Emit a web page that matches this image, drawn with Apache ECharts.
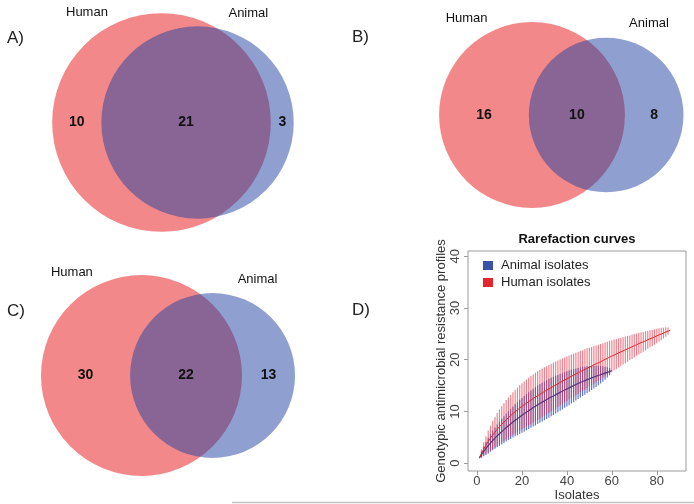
<!DOCTYPE html>
<html><head><meta charset="utf-8">
<script src="https://cdn.jsdelivr.net/npm/echarts@6/dist/echarts.min.js"></script>
<style>html,body{margin:0;padding:0;background:#fff}#c{width:694px;height:504px}</style>
</head><body><div id="c"></div>
<script>
// ---------- data ----------
const setNames = ['Human', 'Animal'];
const vennLetters = ['A)', 'B)', 'C)'];
const humanOnly = [10, 16, 30];
const sharedCounts = [21, 10, 22];
const animalOnly = [3, 8, 13];

const rareLetter = 'D)';
const rareTitle = 'Rarefaction curves';
const rareSeriesNames = ['Animal isolates', 'Human isolates'];
const xTitle = 'Isolates';
const yTitle = 'Genotypic antimicrobial resistance profiles';
const xTicks = [0, 20, 40, 60, 80];
const yTicks = [0, 10, 20, 30, 40];

const humanMean = [1.0,1.9,2.75,3.5,4.2,4.85,5.45,6.0,6.55,7.05,
7.5,7.95,8.4,8.8,9.2,9.6,9.95,10.3,10.65,11.0,
11.3,11.6,11.9,12.2,12.5,12.8,13.05,13.3,13.6,13.85,
14.1,14.35,14.6,14.85,15.1,15.35,15.6,15.85,16.1,16.3,
16.55,16.8,17.0,17.25,17.45,17.7,17.9,18.1,18.35,18.55,
18.75,19.0,19.2,19.4,19.6,19.85,20.05,20.25,20.5,20.7,
20.9,21.1,21.3,21.5,21.7,21.9,22.1,22.3,22.5,22.7,
22.9,23.1,23.3,23.45,23.65,23.85,24.05,24.2,24.4,24.6,
24.8,24.95,25.15,25.35,25.5,25.7];
const humanHalf = [0,0.8,1.3,1.7,2.1,2.4,2.7,2.95,3.15,3.35,
3.5,3.65,3.8,3.9,4.0,4.1,4.2,4.3,4.4,4.45,
4.5,4.55,4.6,4.65,4.7,4.7,4.7,4.7,4.7,4.7,
4.65,4.65,4.6,4.6,4.55,4.5,4.45,4.4,4.35,4.3,
4.25,4.2,4.15,4.1,4.05,4.0,3.95,3.9,3.85,3.75,
3.7,3.65,3.55,3.5,3.45,3.35,3.3,3.2,3.15,3.05,
3.0,2.9,2.8,2.75,2.65,2.6,2.5,2.4,2.35,2.25,
2.15,2.1,2.0,1.9,1.85,1.75,1.65,1.55,1.5,1.4,
1.3,1.2,1.05,0.9,0.7,0];
const animalMean = [1.0,1.65,2.3,2.85,3.4,3.9,4.4,4.85,5.3,5.7,
6.1,6.5,6.9,7.25,7.6,7.95,8.3,8.6,8.95,9.25,
9.55,9.85,10.15,10.45,10.75,11.0,11.3,11.55,11.8,12.05,
12.3,12.55,12.8,13.0,13.25,13.45,13.7,13.9,14.15,14.35,
14.55,14.8,15.0,15.2,15.4,15.6,15.8,15.95,16.15,16.3,
16.5,16.65,16.8,16.95,17.1,17.25,17.4,17.55,17.7,17.9];
const animalHalf = [0,0.6,0.95,1.25,1.5,1.7,1.9,2.05,2.2,2.35,
2.5,2.6,2.7,2.8,2.9,3.0,3.1,3.2,3.3,3.35,
3.45,3.5,3.55,3.6,3.65,3.7,3.7,3.75,3.75,3.75,
3.75,3.75,3.7,3.7,3.65,3.6,3.55,3.5,3.45,3.4,
3.35,3.25,3.2,3.1,3.0,2.9,2.8,2.7,2.6,2.5,
2.35,2.2,2.05,1.9,1.7,1.5,1.25,1.0,0.7,0];

// ---------- layout / style ----------
const FONT = 'Liberation Sans, Arial, sans-serif';
const vennFill = ['rgba(229,17,21,0.5)', 'rgba(31,65,161,0.5)'];
const vennLayout = [
  {cx:161.5, cy:122.5, s:34.8, gx:0,   gy:0,   gw:347, gh:245, lx:7,   ly:38},
  {cx:532,   cy:115,   s:32.3, gx:347, gy:0,   gw:347, gh:235, lx:352, ly:37},
  {cx:141.5, cy:375.5, s:24.7, gx:0,   gy:250, gw:347, gh:250, lx:7,   ly:311}
];
const catAngle = [-34, 25];
const catGapPx = 24;

function lens(r1, r2, d) {
  if (d >= r1 + r2) return 0;
  if (d <= Math.abs(r1 - r2)) return Math.PI * Math.min(r1, r2) ** 2;
  const a1 = Math.acos((d*d + r1*r1 - r2*r2) / (2*d*r1));
  const a2 = Math.acos((d*d + r2*r2 - r1*r1) / (2*d*r2));
  return r1*r1*a1 + r2*r2*a2 - 0.5*Math.sqrt((-d+r1+r2)*(d+r1-r2)*(d-r1+r2)*(d+r1+r2));
}
function solveD(r1, r2, target) {
  let lo = Math.abs(r1 - r2) + 1e-9, hi = r1 + r2;
  for (let k = 0; k < 80; k++) {
    const mid = (lo + hi) / 2;
    if (lens(r1, r2, mid) > target) lo = mid; else hi = mid;
  }
  return (lo + hi) / 2;
}

const grids = [], xAxes = [], yAxes = [], series = [], graphics = [];

vennLayout.forEach((L, i) => {
  const hTot = humanOnly[i] + sharedCounts[i];
  const aTot = animalOnly[i] + sharedCounts[i];
  const r1 = Math.sqrt(hTot / Math.PI), r2 = Math.sqrt(aTot / Math.PI);
  const d = solveD(r1, r2, sharedCounts[i]);
  grids.push({left: L.gx, top: L.gy, width: L.gw, height: L.gh, show: false});
  xAxes.push({gridIndex: i, type: 'value', show: false, min: (L.gx - L.cx) / L.s, max: (L.gx + L.gw - L.cx) / L.s});
  yAxes.push({gridIndex: i, type: 'value', show: false, min: -(L.gy + L.gh - L.cy) / L.s, max: (L.cy - L.gy) / L.s});
  const circles = [[0, 0, r1, 0], [d, 0, r2, 1]];
  series.push({
    type: 'custom', xAxisIndex: i, yAxisIndex: i, clip: false, silent: true, z: 1,
    data: circles,
    renderItem: (params, api) => {
      const c = api.coord([api.value(0), api.value(1)]);
      const r = api.size([api.value(2), 0])[0];
      return {type: 'circle', shape: {cx: c[0], cy: c[1], r: r}, style: {fill: vennFill[api.value(3)]}};
    }
  });
  const g = catGapPx / L.s;
  const items = [
    {x: (-r1 + (d - r2)) / 2, y: 0, text: String(humanOnly[i]), bold: true},
    {x: ((d - r2) + r1) / 2, y: 0, text: String(sharedCounts[i]), bold: true},
    {x: (r1 + d + r2) / 2, y: 0, text: String(animalOnly[i]), bold: true},
    {x: (r1 + g) * Math.sin(catAngle[0] * Math.PI / 180), y: (r1 + g) * Math.cos(catAngle[0] * Math.PI / 180), text: setNames[0], bold: false},
    {x: d + (r2 + g) * Math.sin(catAngle[1] * Math.PI / 180), y: (r2 + g) * Math.cos(catAngle[1] * Math.PI / 180), text: setNames[1], bold: false}
  ];
  series.push({
    type: 'custom', xAxisIndex: i, yAxisIndex: i, clip: false, silent: true, z: 3,
    data: items.map(t => [t.x, t.y]),
    renderItem: (params, api) => {
      const p = api.coord([api.value(0), api.value(1)]);
      const it = items[params.dataIndex];
      return {type: 'text', x: p[0], y: p[1], style: {
        text: it.text, align: 'center', verticalAlign: 'middle',
        fontSize: it.bold ? 14 : 13, fontWeight: it.bold ? 'bold' : 'normal',
        fontFamily: FONT, fill: '#111'}};
    }
  });
  graphics.push({type: 'text', x: L.lx, y: L.ly, style: {text: vennLetters[i], verticalAlign: 'middle', fontSize: 17, fontFamily: FONT, fill: '#222'}});
});

// ---------- rarefaction panel ----------
const R = 3;
grids.push({left: 468, top: 251, right: 8, bottom: 33, show: true, borderColor: '#9a9a9a', borderWidth: 1, backgroundColor: 'transparent'});
xAxes.push({gridIndex: R, type: 'value', min: -4, max: 93,
  axisLine: {show: false, onZero: false}, splitLine: {show: false},
  axisTick: {show: true, inside: false, length: 4, customValues: xTicks, lineStyle: {color: '#9a9a9a'}},
  axisLabel: {customValues: xTicks, fontSize: 13, color: '#444', margin: 4, fontFamily: FONT},
  name: xTitle, nameLocation: 'middle', nameGap: 17,
  nameTextStyle: {fontSize: 13, color: '#333', fontFamily: FONT}});
yAxes.push({gridIndex: R, type: 'value', min: -1.5, max: 41,
  axisLine: {show: false, onZero: false}, splitLine: {show: false},
  axisTick: {show: true, inside: false, length: 4, customValues: yTicks, lineStyle: {color: '#9a9a9a'}},
  axisLabel: {customValues: yTicks, rotate: 90, fontSize: 13, color: '#444', margin: 6, fontFamily: FONT},
  name: yTitle, nameLocation: 'middle', nameGap: 19,
  nameTextStyle: {fontSize: 13, color: '#333', fontFamily: FONT}});

function errBars(name, mean, half, legendColor, stroke, z) {
  return {
    type: 'custom', name: name, xAxisIndex: R, yAxisIndex: R, silent: true, z: z,
    itemStyle: {color: legendColor},
    encode: {x: 0, y: [1, 2]},
    data: mean.map((m, k) => [k + 1, m - half[k], m + half[k]]),
    renderItem: (params, api) => {
      const a = api.coord([api.value(0), api.value(1)]);
      const b = api.coord([api.value(0), api.value(2)]);
      return {type: 'line', shape: {x1: a[0], y1: a[1], x2: b[0], y2: b[1]}, style: {stroke: stroke, lineWidth: 1.15}};
    }
  };
}
series.push(errBars(rareSeriesNames[0], animalMean, animalHalf, '#3852a4', 'rgba(50,80,190,0.8)', 2));
series.push(errBars(rareSeriesNames[1], humanMean, humanHalf, '#e3262b', 'rgba(232,40,60,0.6)', 3));
series.push({type: 'line', name: 'animal-mean', xAxisIndex: R, yAxisIndex: R, silent: true, z: 4,
  data: animalMean.map((m, k) => [k + 1, m]), showSymbol: false, symbol: 'none',
  lineStyle: {color: '#55357f', width: 1.2}});
series.push({type: 'line', name: 'human-mean', xAxisIndex: R, yAxisIndex: R, silent: true, z: 5,
  data: humanMean.map((m, k) => [k + 1, m]), showSymbol: false, symbol: 'none',
  lineStyle: {color: '#e3262b', width: 1}});

graphics.push({type: 'text', x: 352, y: 310, style: {text: rareLetter, verticalAlign: 'middle', fontSize: 17, fontFamily: FONT, fill: '#222'}});
graphics.push({type: 'text', x: 577, y: 239, style: {text: rareTitle, align: 'center', verticalAlign: 'middle', fontSize: 13, fontWeight: 'bold', fontFamily: FONT, fill: '#111'}});
graphics.push({type: 'line', shape: {x1: 232, y1: 502.5, x2: 694, y2: 502.5}, style: {stroke: '#c4c4c4', lineWidth: 1.5}});

const chart = echarts.init(document.getElementById('c'), null, {renderer: 'canvas'});
chart.setOption({
  animation: false,
  backgroundColor: '#ffffff',
  grid: grids, xAxis: xAxes, yAxis: yAxes,
  legend: {
    data: rareSeriesNames.map(n => ({name: n, icon: 'rect'})),
    orient: 'vertical', left: 478, top: 254, itemWidth: 10, itemHeight: 9, itemGap: 4,
    selectedMode: false,
    textStyle: {fontSize: 13, color: '#222', fontFamily: FONT, padding: [0, 0, 0, 3]}
  },
  graphic: graphics,
  series: series
});
</script></body></html>
